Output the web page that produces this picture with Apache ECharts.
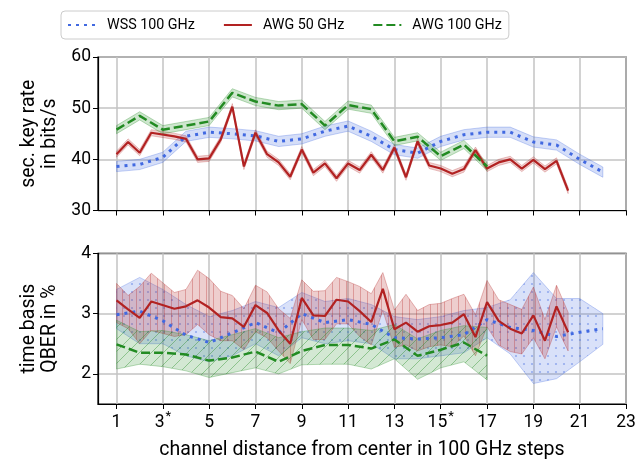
<!DOCTYPE html>
<html><head><meta charset="utf-8">
<script src="https://cdn.jsdelivr.net/npm/echarts@6/dist/echarts.min.js"></script>
<style>html,body{margin:0;padding:0;background:#fff}#c{width:644px;height:461px}</style>
</head><body><div id="c"></div>
<script>
// ---------- tick labels ----------
const xTickValues = [1, 3, 5, 7, 9, 11, 13, 15, 17, 19, 21, 23];
const starTicks = [3, 15];
const yTopTicks = [30, 40, 50, 60];
const yBotTicks = [2, 3, 4];
const seriesNames = ['WSS 100 GHz', 'AWG 50 GHz', 'AWG 100 GHz'];

// ---------- WSS 100 GHz ----------
const wssX = [1,2,3,4,5,6,7,8,9,10,11,12,13,14,15,16,17,18,19,20,21,22];
const wssKey = [38.6,39.0,40.4,44.5,45.3,45.0,44.6,43.5,44.0,45.5,46.5,44.5,41.9,41.2,43.5,44.8,45.3,45.3,43.4,42.8,40.0,37.5];
const wssKeyErr = [1.0,1.0,1.0,1.0,1.0,1.0,1.0,1.0,1.0,1.0,1.0,1.0,1.0,1.0,1.0,1.0,1.0,1.0,1.0,1.0,1.0,1.0];
const wssQ   = [2.98,3.04,2.88,2.64,2.52,2.68,2.85,2.68,3.0,2.85,2.9,2.82,2.6,2.58,2.6,2.65,2.9,2.77,2.72,2.62,2.69,2.75];
const wssQHi = [3.4,3.6,3.4,3.15,2.95,3.05,3.2,3.1,3.35,3.2,3.25,3.15,2.95,2.9,2.95,3.05,3.1,3.23,3.68,3.25,3.25,3.0];
const wssQLo = [2.75,2.5,2.5,2.3,2.2,2.3,2.5,2.3,2.6,2.5,2.55,2.5,2.25,2.25,2.3,2.35,2.6,2.33,1.84,1.92,2.2,2.49];

// ---------- AWG 50 GHz ----------
const awg50X = [1,1.5,2,2.5,3.5,4,4.5,5,5.5,6,6.5,7,7.5,8,8.5,9,9.5,10,10.5,11,11.5,12,12.5,13,13.5,14,14.5,15,15.5,16,16.5,17,17.5,18,18.5,19,19.5,20,20.5];
const awg50Key = [41.0,43.4,41.3,45.2,44.5,44.0,40.0,40.2,43.9,50.3,38.6,45.2,41.0,39.4,36.6,41.9,37.4,39.2,36.3,39.2,37.9,40.9,37.9,42.3,36.5,43.5,38.8,38.2,37.2,38.1,41.8,38.2,39.4,40.0,38.2,39.9,38.1,39.7,33.9];
const awg50KeyErr = [0.6,0.6,0.6,0.6,0.6,0.6,0.6,0.6,0.6,0.6,0.6,0.6,0.6,0.6,0.6,0.6,0.6,0.6,0.6,0.6,0.6,0.6,0.6,0.6,0.6,0.6,0.6,0.6,0.6,0.6,0.6,0.6,0.6,0.6,0.6,0.6,0.6,0.6,0.6];
const awg50Q   = [3.22,3.07,2.93,3.2,3.08,3.12,3.22,3.1,2.94,2.92,2.78,3.14,3.01,2.72,2.5,3.26,2.97,2.96,3.23,3.2,3.04,2.86,3.41,2.74,2.85,2.7,2.79,2.81,2.85,2.99,2.61,3.19,2.88,2.75,2.67,2.97,2.55,3.12,2.69];
const awg50QHi = [3.5,3.3,3.45,3.67,3.35,3.4,3.72,3.58,3.37,3.3,3.08,3.47,3.36,3.08,2.92,3.56,3.37,3.38,3.6,3.53,3.45,3.33,3.68,3.06,3.32,3.05,3.15,3.17,3.25,3.32,2.98,3.55,3.23,3.15,3.07,3.44,2.9,3.47,3.02];
const awg50QLo = [2.85,2.75,2.5,2.72,2.62,2.65,2.82,2.65,2.55,2.55,2.4,2.7,2.6,2.38,2.17,2.9,2.57,2.57,2.83,2.83,2.62,2.48,3.05,2.44,2.48,2.38,2.45,2.48,2.45,2.63,2.3,2.78,2.48,2.37,2.33,2.6,2.25,2.78,2.38];

// ---------- AWG 100 GHz ----------
const awg100X = [1,2,3,4,5,6,7,8,9,10,11,12,13,14,15,16,17];
const awg100Key = [45.8,48.5,45.8,46.6,47.4,53.0,51.3,50.5,50.8,46.6,50.6,49.8,43.5,44.4,40.6,42.9,38.6];
const awg100KeyErr = [0.8,0.8,0.8,0.8,0.8,0.8,0.8,0.8,0.8,0.8,0.8,0.8,0.8,0.8,0.8,0.8,0.8];
const awg100Q   = [2.49,2.35,2.35,2.32,2.22,2.27,2.37,2.2,2.38,2.48,2.48,2.42,2.57,2.3,2.4,2.52,2.3];
const awg100QHi = [2.89,2.7,2.72,2.65,2.55,2.65,2.75,2.6,2.7,2.76,2.76,2.72,2.82,2.58,2.72,2.8,2.77];
const awg100QLo = [2.08,2.16,2.12,2.05,1.94,2.02,2.1,2.0,2.15,2.16,2.16,2.08,2.25,1.91,2.1,2.2,1.9];

// ---------- styles ----------
const BLUE = '#4169e1', RED = '#b22222', GREEN = '#228b22';
const FONT = 'Roboto';
const TICK_FS = 17.5, NAME_FS = 19.5, LEGEND_FS = 14.3;

function pattern(kind, bg, fg) {
  const s = kind === 'dots' ? 8 : (kind === 'vline' ? 7 : 12);
  const c = document.createElement('canvas');
  c.width = s; c.height = s;
  const g = c.getContext('2d');
  g.fillStyle = bg; g.fillRect(0, 0, s, s);
  g.strokeStyle = fg; g.fillStyle = fg; g.lineWidth = 1;
  if (kind === 'vline') { g.beginPath(); g.moveTo(3.5, 0); g.lineTo(3.5, s); g.stroke(); }
  if (kind === 'diag') {
    g.beginPath();
    g.moveTo(0, s); g.lineTo(s, 0);
    g.moveTo(-2, 2); g.lineTo(2, -2);
    g.moveTo(s - 2, s + 2); g.lineTo(s + 2, s - 2);
    g.stroke();
  }
  if (kind === 'dots') { g.beginPath(); g.arc(4, 4, 1.1, 0, Math.PI * 2); g.fill(); }
  return { type: 'pattern', image: c, repeat: 'repeat' };
}

function pts(xs, ys) { return xs.map((x, i) => [x, ys[i]]); }

function band(id, gi, xs, lo, hi, fill, stroke) {
  return {
    type: 'custom', name: id, xAxisIndex: gi, yAxisIndex: gi, silent: true, z: 1,
    data: [[xs[0], lo[0]]],
    renderItem: function (params, api) {
      const up = xs.map((x, i) => api.coord([x, hi[i]]));
      const dn = xs.map((x, i) => api.coord([x, lo[i]])).reverse();
      return { type: 'polygon', shape: { points: up.concat(dn) }, style: { fill: fill, stroke: stroke, lineWidth: 1 } };
    }
  };
}
function errBand(id, gi, xs, ys, err, fill, stroke) {
  return band(id, gi, xs, ys.map((y, i) => y - err[i]), ys.map((y, i) => y + err[i]), fill, stroke);
}

function line(name, gi, xs, ys, color, type, width) {
  return {
    type: 'line', name: name, xAxisIndex: gi, yAxisIndex: gi, z: 3,
    data: pts(xs, ys), symbol: 'none', showSymbol: false, silent: true,
    lineStyle: { color: color, width: width, type: type, cap: 'butt' },
    itemStyle: { color: color }
  };
}

const wssStyle = [[3, 5], 3];
const redStyle = ['solid', 2.2];
const greenStyle = [[9, 4], 2.5];

const axisCommonX = (gi) => ({
  type: 'value', gridIndex: gi, min: 0.2, max: 23,
  axisLine: { show: true, onZero: false, lineStyle: { color: '#000', width: 1.2 } },
  axisTick: { show: true, customValues: xTickValues, length: 5, lineStyle: { color: '#000', width: 1 } },
  axisLabel: {
    show: gi === 1, customValues: xTickValues, color: '#000', fontSize: TICK_FS, fontFamily: FONT, margin: 6,
    formatter: function (v) { return starTicks.indexOf(v) >= 0 ? '{n|' + v + '}{s|*}' : '{n|' + v + '}'; },
    rich: {
      n: { fontSize: TICK_FS, fontFamily: FONT, color: '#000', verticalAlign: 'top', lineHeight: 21, padding: [4, 0, 0, 0] },
      s: { fontSize: 13, fontFamily: FONT, color: '#000', verticalAlign: 'top', lineHeight: 13, padding: [0, 0, 0, 1] }
    }
  },
  splitLine: { show: true, lineStyle: { color: '#c3c3c3', width: 1.5 } },
  name: gi === 1 ? 'channel distance from center in 100 GHz steps' : '',
  nameLocation: 'middle', nameGap: 36,
  nameTextStyle: { fontSize: NAME_FS, fontFamily: FONT, color: '#000' }
});

const option = {
  backgroundColor: '#fff',
  animation: false,
  legend: {
    left: 61, top: 11, padding: [7, 7, 7, 6], itemGap: 28, itemWidth: 28, itemHeight: 14,
    borderColor: '#cccccc', borderWidth: 1, borderRadius: 4,
    textStyle: { fontSize: LEGEND_FS, fontFamily: FONT, color: '#000', padding: [0, 0, 0, 6] },
    itemStyle: { opacity: 0 },
    selectedMode: false,
    data: seriesNames
  },
  grid: [
    { left: 98, right: 18, top: 57, height: 153.5, show: true, borderColor: '#000', borderWidth: 1.2, backgroundColor: 'transparent' },
    { left: 98, right: 18, top: 253.3, height: 154, show: true, borderColor: '#000', borderWidth: 1.2, backgroundColor: 'transparent' }
  ],
  xAxis: [axisCommonX(0), axisCommonX(1)],
  yAxis: [
    {
      type: 'value', gridIndex: 0, min: 30, max: 60, interval: 10,
      axisLine: { show: true, lineStyle: { color: '#000', width: 1.2 } },
      axisTick: { show: true, length: 5, lineStyle: { color: '#000' } },
      axisLabel: { color: '#000', fontSize: TICK_FS, fontFamily: FONT, margin: 7, customValues: yTopTicks },
      splitLine: { show: true, lineStyle: { color: '#c3c3c3', width: 1.5 } },
      name: 'sec. key rate\nin bits/s', nameLocation: 'middle', nameGap: 37,
      nameTextStyle: { fontSize: NAME_FS, fontFamily: FONT, color: '#000', lineHeight: 21 }
    },
    {
      type: 'value', gridIndex: 1, min: 1.5, max: 4,
      axisLine: { show: true, lineStyle: { color: '#000', width: 1.2 } },
      axisTick: { show: true, length: 5, customValues: yBotTicks, lineStyle: { color: '#000' } },
      axisLabel: { color: '#000', fontSize: TICK_FS, fontFamily: FONT, margin: 7, customValues: yBotTicks },
      splitLine: { show: true, lineStyle: { color: '#c3c3c3', width: 1.5 } },
      name: 'time basis\nQBER in %', nameLocation: 'middle', nameGap: 37,
      nameTextStyle: { fontSize: NAME_FS, fontFamily: FONT, color: '#000', lineHeight: 21 }
    }
  ],
  series: [
    errBand('wssKeyBand', 0, wssX, wssKey, wssKeyErr, 'rgba(65,105,225,0.22)', 'rgba(65,105,225,0.3)'),
    errBand('awg50KeyBand', 0, awg50X, awg50Key, awg50KeyErr, 'rgba(178,34,34,0.2)', 'rgba(178,34,34,0.25)'),
    errBand('awg100KeyBand', 0, awg100X, awg100Key, awg100KeyErr, 'rgba(34,139,34,0.22)', 'rgba(34,139,34,0.3)'),
    band('wssQBand', 1, wssX, wssQLo, wssQHi, pattern('dots', 'rgba(65,105,225,0.2)', 'rgba(65,105,225,0.45)'), 'rgba(65,105,225,0.3)'),
    band('awg50QBand', 1, awg50X, awg50QLo, awg50QHi, pattern('vline', 'rgba(178,34,34,0.22)', 'rgba(178,34,34,0.3)'), 'rgba(178,34,34,0.3)'),
    band('awg100QBand', 1, awg100X, awg100QLo, awg100QHi, pattern('diag', 'rgba(34,139,34,0.2)', 'rgba(34,139,34,0.4)'), 'rgba(34,139,34,0.3)'),
    line(seriesNames[0], 0, wssX, wssKey, BLUE, wssStyle[0], wssStyle[1]),
    line(seriesNames[1], 0, awg50X, awg50Key, RED, redStyle[0], redStyle[1]),
    line(seriesNames[2], 0, awg100X, awg100Key, GREEN, greenStyle[0], greenStyle[1]),
    line(seriesNames[0], 1, wssX, wssQ, BLUE, wssStyle[0], wssStyle[1]),
    line(seriesNames[1], 1, awg50X, awg50Q, RED, redStyle[0], redStyle[1]),
    line(seriesNames[2], 1, awg100X, awg100Q, GREEN, greenStyle[0], greenStyle[1])
  ]
};

const chart = echarts.init(document.getElementById('c'), null, { renderer: 'canvas' });
chart.setOption(option);
</script>
</body></html>
